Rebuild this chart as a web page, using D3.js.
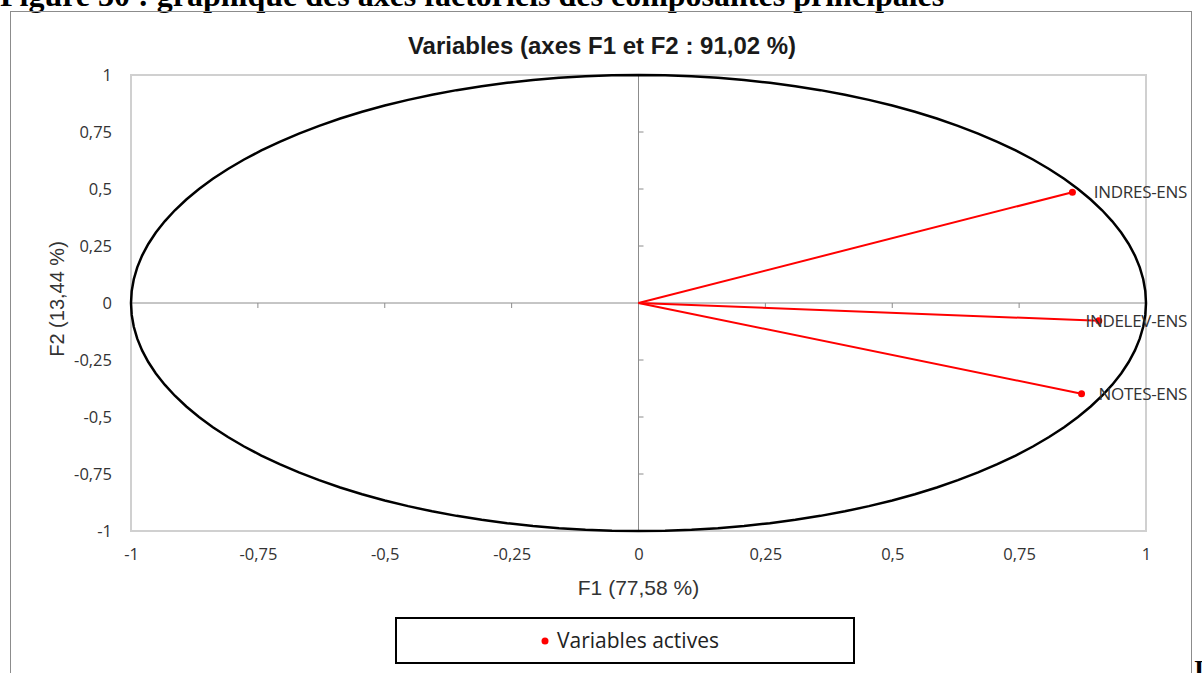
<!DOCTYPE html>
<html><head><meta charset="utf-8">
<script src="https://cdn.jsdelivr.net/npm/d3@7"></script>
<style>body{margin:0;background:#fff}svg{display:block}</style>
</head><body>
<script>
const variables = ["INDRES-ENS", "INDELEV-ENS", "NOTES-ENS"];
const f1Values = [0.855, 0.907, 0.873];
const f2Values = [0.486, -0.078, -0.398];
const tickValues = [-1, -0.75, -0.5, -0.25, 0, 0.25, 0.5, 0.75, 1];
const tickLabels = ["-1", "-0,75", "-0,5", "-0,25", "0", "0,25", "0,5", "0,75", "1"];
const title = "Variables (axes F1 et F2 : 91,02 %)";
const xTitle = "F1 (77,58 %)";
const yTitle = "F2 (13,44 %)";
const legendLabel = "Variables actives";
const caption = "Figure 30 : graphique des axes factoriels des composantes principales";

const W = 1202, H = 673;
const svg = d3.select("body").append("svg").attr("width", W).attr("height", H);
const sans = "'Open Sans', sans-serif";
const arial = "'Liberation Sans', Arial, sans-serif";
const serif = "'Liberation Serif', 'Times New Roman', serif";

// caption (clipped at top, as in the reference)
svg.append("text").attr("x", 0).attr("y", 6)
  .attr("font-family", serif).attr("font-weight", "bold").attr("font-size", 32).text(caption);
svg.append("text").attr("x", 1194).attr("y", 678)
  .attr("font-family", serif).attr("font-weight", "bold").attr("font-size", 26).text("I");

// outer frame
svg.append("rect").attr("x", 10.5).attr("y", 11.5).attr("width", 1181).attr("height", 680)
  .attr("fill", "none").attr("stroke", "#8c8c8c").attr("stroke-width", 1);

const x = d3.scaleLinear().domain([-1, 1]).range([131, 1146]);
const y = d3.scaleLinear().domain([-1, 1]).range([531, 75]);

// title
svg.append("text").attr("x", 602).attr("y", 54).attr("text-anchor", "middle")
  .attr("font-family", arial).attr("font-weight", "bold")
  .attr("font-size", 24).attr("fill", "#1a1a1a").text(title);

// plot area border
svg.append("rect").attr("x", x(-1)).attr("y", y(1)).attr("width", x(1) - x(-1)).attr("height", y(-1) - y(1))
  .attr("fill", "none").attr("stroke", "#d0d0d0").attr("stroke-width", 2);

// zero axes
svg.append("line").attr("x1", x(-1)).attr("x2", x(1)).attr("y1", y(0)).attr("y2", y(0))
  .attr("stroke", "#8c8c8c").attr("stroke-width", 1);
svg.append("line").attr("x1", x(0)).attr("x2", x(0)).attr("y1", y(-1)).attr("y2", y(1))
  .attr("stroke", "#8c8c8c").attr("stroke-width", 1);
tickValues.forEach(v => {
  svg.append("line").attr("x1", x(0)).attr("x2", x(0) + 5).attr("y1", y(v)).attr("y2", y(v))
    .attr("stroke", "#8c8c8c");
  svg.append("line").attr("y1", y(0)).attr("y2", y(0) + 5).attr("x1", x(v)).attr("x2", x(v))
    .attr("stroke", "#8c8c8c");
});

// tick labels
const yAxis = d3.axisLeft(y).tickValues(tickValues).tickFormat((d, i) => tickLabels[i]).tickSize(0).tickPadding(19);
const gy = svg.append("g").attr("transform", `translate(${x(-1)},0)`).call(yAxis);
const xAxis = d3.axisBottom(x).tickValues(tickValues).tickFormat((d, i) => tickLabels[i]).tickSize(0).tickPadding(17);
const gx = svg.append("g").attr("transform", `translate(0,${y(-1)})`).call(xAxis);
[gx, gy].forEach(g => {
  g.select(".domain").remove();
  g.attr("font-family", sans).attr("font-size", 16.5);
  g.selectAll("text").attr("fill", "#333");
});

// axis titles
svg.append("text").attr("x", x(0)).attr("y", 595).attr("text-anchor", "middle")
  .attr("font-family", arial).attr("font-size", 21).attr("fill", "#333").text(xTitle);
svg.append("text").attr("transform", `translate(64,${y(0) - 4}) rotate(-90)`).attr("text-anchor", "middle")
  .attr("font-family", arial).attr("font-size", 20).attr("fill", "#333").text(yTitle);

// correlation circle
const circ = d3.range(0, 361, 3).map(a => [Math.cos(a * Math.PI / 180), Math.sin(a * Math.PI / 180)]);
svg.append("path").datum(circ)
  .attr("d", d3.line().x(d => x(d[0])).y(d => y(d[1])).curve(d3.curveLinearClosed))
  .attr("fill", "none").attr("stroke", "#000").attr("stroke-width", 2.5);

// vectors
const data = variables.map((v, i) => ({name: v, f1: f1Values[i], f2: f2Values[i]}));
svg.selectAll("line.vec").data(data).enter().append("line").attr("class", "vec")
  .attr("x1", x(0)).attr("y1", y(0)).attr("x2", d => x(d.f1)).attr("y2", d => y(d.f2))
  .attr("stroke", "#ff0000").attr("stroke-width", 2);
svg.selectAll("circle.pt").data(data).enter().append("circle").attr("class", "pt")
  .attr("cx", d => x(d.f1)).attr("cy", d => y(d.f2)).attr("r", 3.5).attr("fill", "#ff0000");
svg.selectAll("text.lbl").data(data).enter().append("text").attr("class", "lbl")
  .attr("x", 1187).attr("y", d => y(d.f2) + 6).attr("text-anchor", "end")
  .attr("font-family", sans).attr("font-size", 17).attr("letter-spacing", -0.3)
  .attr("fill", "#333").text(d => d.name);

// legend
svg.append("rect").attr("x", 396).attr("y", 618).attr("width", 458).attr("height", 45)
  .attr("fill", "#fff").attr("stroke", "#000").attr("stroke-width", 2);
svg.append("circle").attr("cx", 545).attr("cy", 641).attr("r", 3.5).attr("fill", "#ff0000");
svg.append("text").attr("x", 557).attr("y", 648).attr("font-family", sans).attr("font-size", 21)
  .attr("fill", "#222").text(legendLabel);
</script>
</body></html>
